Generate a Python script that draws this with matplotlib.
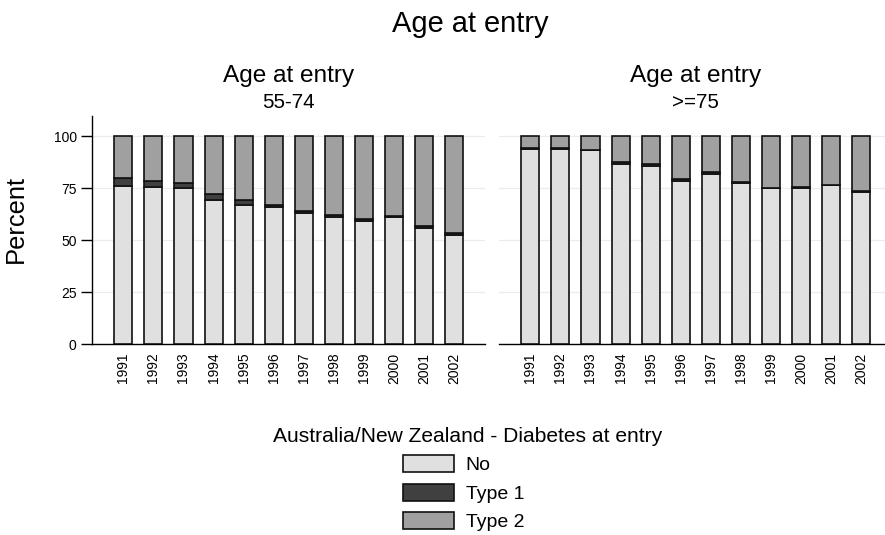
import matplotlib
matplotlib.use("Agg")
import matplotlib.pyplot as plt
from matplotlib.patches import Patch

plt.rcParams['font.family'] = ['Liberation Sans', 'DejaVu Sans']

years = ['1991', '1992', '1993', '1994', '1995', '1996',
         '1997', '1998', '1999', '2000', '2001', '2002']
categories = ['No', 'Type 1', 'Type 2']
panels = ['55-74', '>=75']

# Percent of entrants by diabetes status, age 55-74
young_no = [76.2, 75.6, 75.0, 69.4, 67.1, 66.2, 63.3, 61.2, 59.3, 61.2, 56.1, 52.4]
young_t1 = [3.9, 2.9, 2.7, 2.9, 2.3, 0.8, 0.9, 0.7, 1.1, 0.5, 0.8, 1.1]
young_t2 = [19.9, 21.5, 22.3, 27.7, 30.6, 33.0, 35.8, 38.1, 39.6, 38.3, 43.1, 46.5]

# Percent of entrants by diabetes status, age >=75
old_no = [93.9, 93.9, 93.4, 86.8, 85.6, 78.5, 81.9, 77.7, 75.1, 75.3, 76.4, 73.4]
old_t1 = [0.2, 0.2, 0.2, 1.0, 0.8, 0.8, 0.9, 0.3, 0.2, 0.2, 0.2, 0.2]
old_t2 = [5.9, 5.9, 6.4, 12.2, 13.6, 20.7, 17.2, 22.0, 24.7, 24.5, 23.4, 26.4]

colors = ['#e0e0e0', '#404040', '#a0a0a0']
edge = '#111111'

W, H = 885, 535
fig = plt.figure(figsize=(W / 100, H / 100), dpi=100)


def px_axes(x0, x1, ytop, ybot):
    return fig.add_axes([x0 / W, 1 - ybot / H, (x1 - x0) / W, (ybot - ytop) / H])


ax_l = px_axes(92, 485, 116, 344.3)
ax_r = px_axes(499, 892, 116, 344.3)

pos = list(range(1, len(years) + 1))
for ax, series, sub in [(ax_l, (young_no, young_t1, young_t2), panels[0]),
                        (ax_r, (old_no, old_t1, old_t2), panels[1])]:
    bottom = [0.0] * len(years)
    for vals, col in zip(series, colors):
        ax.bar(pos, vals, width=0.6, bottom=bottom, color=col,
               edgecolor=edge, linewidth=1.2, zorder=3)
        bottom = [b + v for b, v in zip(bottom, vals)]
    ax.set_xlim(-0.04, 13.02)
    ax.set_ylim(0, 109.7)
    ax.set_xticks(pos)
    ax.set_xticklabels(years, rotation=90, fontsize=10)
    ax.tick_params(axis='x', length=0, pad=6)
    ax.set_yticks([0, 25, 50, 75, 100])
    ax.yaxis.grid(True, color='#ececec', linewidth=0.9, zorder=0)
    ax.set_axisbelow(True)
    for s in ['top', 'right']:
        ax.spines[s].set_visible(False)
    ax.spines['bottom'].set_color('black')
    ax.spines['bottom'].set_linewidth(1.0)
    # panel headers
    xc = (ax.get_position().x0 + ax.get_position().x1) / 2
    fig.text(xc, 1 - 81.7 / H, 'Age at entry', ha='center', va='baseline',
             fontsize=17.6)
    fig.text(xc, 1 - 108 / H, sub, ha='center', va='baseline', fontsize=14.8)

ax_l.spines['left'].set_color('black')
ax_l.spines['left'].set_linewidth(1.0)
ax_l.tick_params(axis='y', length=8, width=1.0, pad=3, labelsize=10)
ax_r.spines['left'].set_visible(False)
ax_r.tick_params(axis='y', left=False, labelleft=False)

fig.text(470 / W, 1 - 31.7 / H, 'Age at entry', ha='center', va='baseline',
         fontsize=20.9)
fig.text(16 / W, 1 - 219 / H, 'Percent', rotation=90, ha='center',
         va='center', fontsize=18.4)

fig.text(468 / W, 1 - 441.7 / H, 'Australia/New Zealand - Diabetes at entry',
         ha='center', va='baseline', fontsize=15.1)
handles = [Patch(facecolor=c, edgecolor=edge, linewidth=1.2) for c in colors]
fig.legend(handles, categories, loc='upper left',
           bbox_to_anchor=(403 / W, 1 - 455 / H), frameon=False,
           fontsize=14, handlelength=2.63, handleheight=0.96,
           handletextpad=0.6, labelspacing=0.49, borderpad=0,
           borderaxespad=0)

fig.savefig('out.png', dpi=100)
